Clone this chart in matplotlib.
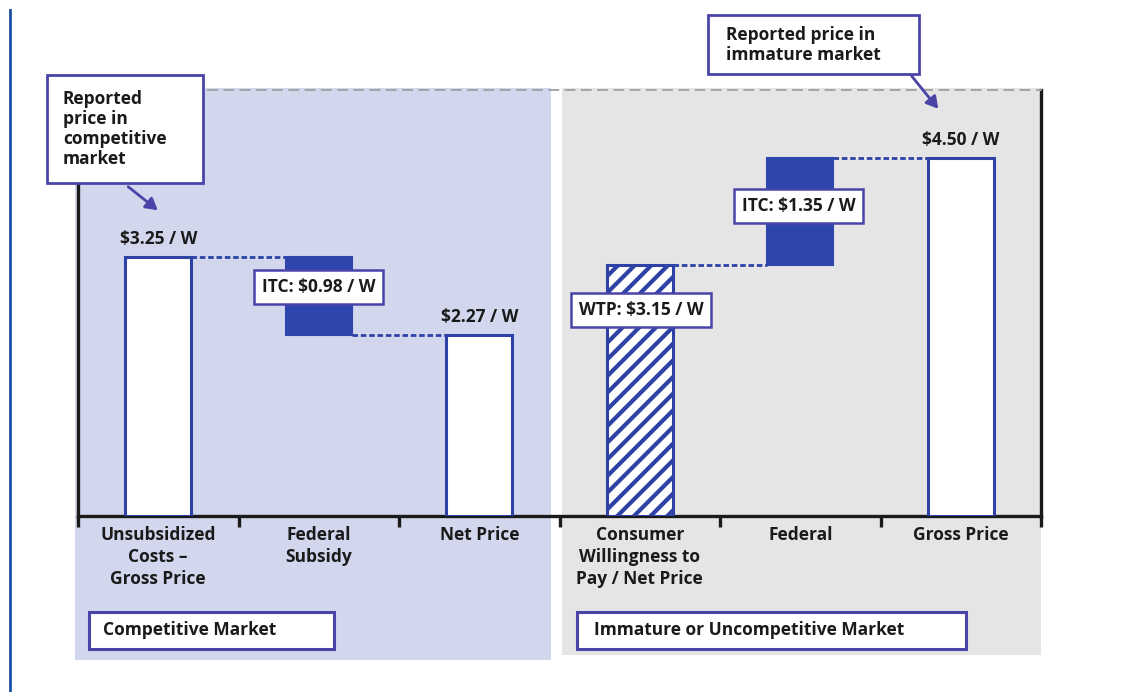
import matplotlib
matplotlib.use("Agg")
import matplotlib.pyplot as plt
from matplotlib.patches import Rectangle
from matplotlib.lines import Line2D

# ---------------- data ----------------
categories = ["Unsubsidized\nCosts –\nGross Price", "Federal\nSubsidy", "Net Price",
              "Consumer\nWillingness to\nPay / Net Price", "Federal", "Gross Price"]
gross_competitive = 3.25
itc_competitive = 0.98
net_competitive = 2.27
wtp_immature = 3.15
itc_immature = 1.35
gross_immature = 4.50

heights = [gross_competitive, itc_competitive, net_competitive,
           wtp_immature, itc_immature, gross_immature]
bottoms = [0, net_competitive, 0, 0, wtp_immature, 0]
value_labels = ["$3.25 / W", None, "$2.27 / W", None, None, "$4.50 / W"]
box_labels = {1: "ITC: $0.98 / W", 3: "WTP: $3.15 / W", 4: "ITC: $1.35 / W"}
market_labels = ["Competitive Market", "Immature or Uncompetitive Market"]
callout_labels = ["Reported\nprice in\ncompetitive\nmarket", "Reported price in\nimmature market"]

# ---------------- style ----------------
BLUE = "#2E42A6"
FILL = "#2F45AE"
BOXEDGE = "#4A44A8"
PANEL_BLUE = "#D2D7EE"
PANEL_GRAY = "#E5E5E5"
FONT = ["Open Sans", "DejaVu Sans"]
FS = 12.5

plt.rcParams["font.family"] = FONT
plt.rcParams["font.weight"] = "bold"
plt.rcParams["hatch.linewidth"] = 3.0

W, H = 1147, 692
fig = plt.figure(figsize=(W / 100, H / 100), dpi=100)
fig.patch.set_facecolor("white")


def fx(x):
    return x / W


def fy(y):
    return 1 - y / H


def frect(x0, y0, x1, y1, **kw):
    r = Rectangle((fx(x0), fy(y1)), (x1 - x0) / W, (y1 - y0) / H,
                  transform=fig.transFigure, **kw)
    fig.patches.append(r)
    return r


# background panels
frect(75, 88, 551, 660, facecolor=PANEL_BLUE, edgecolor="none", zorder=-2)
frect(562, 88, 1041, 655, facecolor=PANEL_GRAY, edgecolor="none", zorder=-2)
# left border line
fig.lines.append(Line2D([fx(10), fx(10)], [fy(10), fy(692)], transform=fig.transFigure,
                        color="#1B4FA3", lw=2.0, zorder=-1))

ax = fig.add_axes([fx(78), fy(516), (1041 - 78) / W, (516 - 90) / H])
ax.patch.set_alpha(0)

bw = 0.41
xs = list(range(len(categories)))
for i in xs:
    if i in (1, 4):
        ax.bar(i, heights[i], bottom=bottoms[i], width=bw, color=FILL,
               edgecolor=FILL, linewidth=1.5, zorder=3)
    elif i == 3:
        ax.bar(i, heights[i], bottom=bottoms[i], width=bw, facecolor="white",
               edgecolor=BLUE, hatch="//", linewidth=2.2, zorder=3)
    else:
        ax.bar(i, heights[i], bottom=bottoms[i], width=bw, facecolor="white",
               edgecolor=BLUE, linewidth=2.2, zorder=3)

# dotted connectors
tops = [b + h for b, h in zip(bottoms, heights)]
connect = [(0, 1, tops[0]), (1, 2, bottoms[1]), (3, 4, bottoms[4]), (4, 5, tops[4])]
for a, b, y in connect:
    ax.plot([a + bw / 2, b - bw / 2], [y, y], color=BLUE, lw=2.0,
            linestyle=(0, (2.0, 1.0)), zorder=2, solid_capstyle="butt")

# value labels above bars
for i, lab in enumerate(value_labels):
    if lab:
        ax.annotate(lab, xy=(i, tops[i]), xytext=(0, 9), textcoords="offset pixels",
                    ha="center", va="bottom", fontsize=FS, fontweight="bold", color="#1a1a1a")

# boxed labels on bars
box_frac = {1: 0.62, 3: -0.18, 4: 0.55}
box_dx = {1: 0.0, 3: 0.01, 4: -0.01}
for i, lab in box_labels.items():
    yv = bottoms[i] + box_frac[i] * heights[i] if i != 3 else tops[i] - 0.56
    ax.text(i + box_dx[i], yv, lab, ha="center", va="center", fontsize=FS,
            fontweight="bold", color="#1a1a1a", zorder=5,
            bbox=dict(boxstyle="square,pad=0.45", facecolor="white",
                      edgecolor=BOXEDGE, linewidth=1.8))

ax.set_xlim(-0.5, 5.5)
ax.set_ylim(0, 5.35)
ax.set_xticks([x - 0.5 for x in range(len(categories) + 1)])
ax.set_xticklabels([])
ax.set_xticks(xs, minor=True)
ax.set_xticklabels(categories, minor=True, fontsize=FS, fontweight="bold",
                   color="#1a1a1a", linespacing=1.3)
ax.tick_params(axis="x", which="major", length=8, width=2.4, color="#1a1a1a", direction="out")
ax.tick_params(axis="x", which="minor", length=0, pad=7)
ax.set_yticks([])
for s in ("left", "right", "bottom"):
    ax.spines[s].set_linewidth(2.4)
    ax.spines[s].set_color("#1a1a1a")
ax.spines["top"].set_linestyle((0, (5, 4)))
ax.spines["top"].set_color("#A0A0A0")
ax.spines["top"].set_linewidth(1.3)

# callout boxes
frect(47, 75, 203, 183, facecolor="white", edgecolor=BOXEDGE, linewidth=2.0, zorder=5)
fig.text(fx(63), fy(129), callout_labels[0], ha="left", va="center", fontsize=FS,
         fontweight="bold", color="#1a1a1a", zorder=6, linespacing=1.15)
frect(708, 15, 919, 74, facecolor="white", edgecolor=BOXEDGE, linewidth=2.0, zorder=5)
fig.text(fx(726), fy(45), callout_labels[1], ha="left", va="center", fontsize=FS,
         fontweight="bold", color="#1a1a1a", zorder=6, linespacing=1.15)

fig.add_artist(matplotlib.patches.FancyArrowPatch(
    (fx(126), fy(185)), (fx(160), fy(212)), transform=fig.transFigure,
    arrowstyle="-|>,head_length=7,head_width=4", color=BOXEDGE, lw=2.0, zorder=6))
fig.add_artist(matplotlib.patches.FancyArrowPatch(
    (fx(910), fy(74)), (fx(940), fy(111)), transform=fig.transFigure,
    arrowstyle="-|>,head_length=7,head_width=4", color=BOXEDGE, lw=2.0, zorder=6))

# market labels
frect(89, 612, 334, 649, facecolor="white", edgecolor=BOXEDGE, linewidth=2.2, zorder=5)
fig.text(fx(103), fy(630), market_labels[0], ha="left", va="center", fontsize=FS,
         fontweight="bold", color="#1a1a1a", zorder=6)
frect(577, 612, 966, 649, facecolor="white", edgecolor=BOXEDGE, linewidth=2.2, zorder=5)
fig.text(fx(594), fy(630), market_labels[1], ha="left", va="center", fontsize=FS,
         fontweight="bold", color="#1a1a1a", zorder=6)

fig.savefig("out.png", dpi=100)
